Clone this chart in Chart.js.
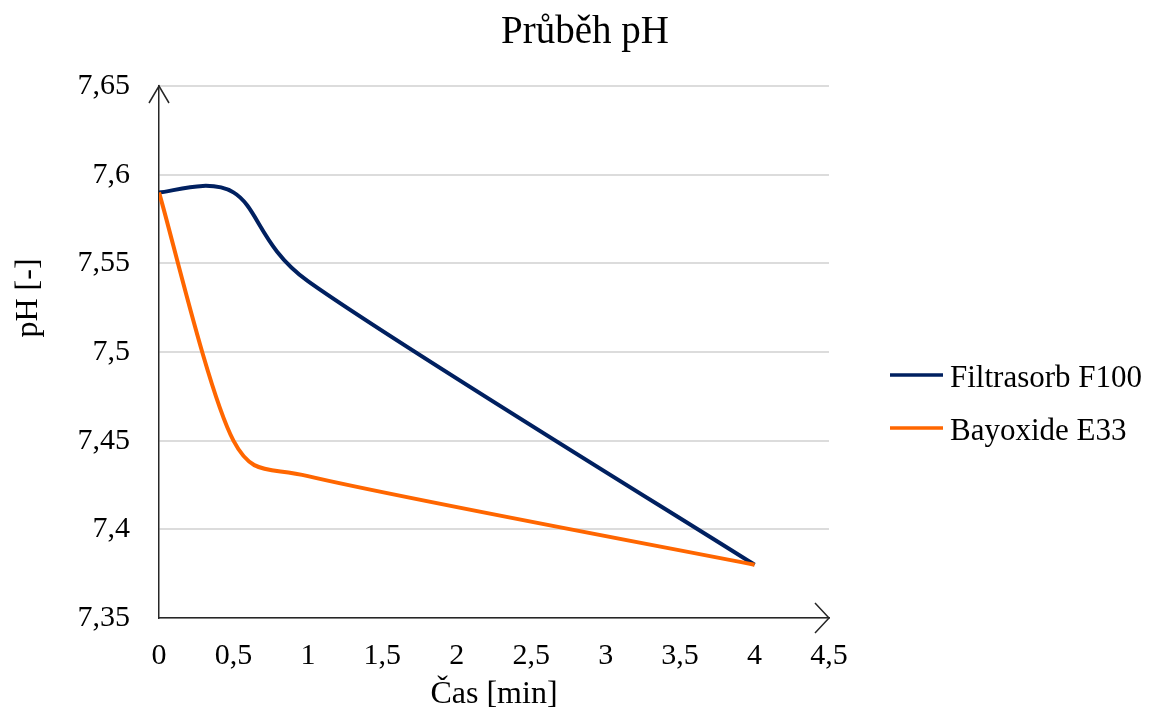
<!DOCTYPE html>
<html>
<head>
<meta charset="utf-8">
<title>Průběh pH</title>
<script src="https://cdn.jsdelivr.net/npm/chart.js@4.4.1/dist/chart.umd.min.js"></script>
<style>
  html, body { margin: 0; padding: 0; background: #fff; }
  #wrap { width: 1153px; height: 718px; }
</style>
</head>
<body>
<div id="wrap"><canvas id="phChart" width="1153" height="718"></canvas></div>
<script>
// ===== Data =====
const timeMin = [0, 0.5, 1, 4];
const filtrasorbPH = [7.59, 7.59, 7.54, 7.38];
const bayoxidePH = [7.59, 7.45, 7.43, 7.38];
const seriesNames = ["Filtrasorb F100", "Bayoxide E33"];
const chartTitle = "Průběh pH";
const xTitle = "Čas [min]";
const yTitle = "pH [-]";
const xMin = 0, xMax = 4.5, xStep = 0.5;
const yMin = 7.35, yMax = 7.65, yStep = 0.05;

const FONT = "'Liberation Serif', 'Times New Roman', serif";
const BLUE = "#002060";
const ORANGE = "#FF6600";
const AXIS = "#262626";

function toPoints(xs, ys) {
  return xs.map((x, i) => ({ x, y: ys[i] }));
}

function fmt(v) {
  return String(Math.round(v * 100) / 100).replace(".", ",");
}

// ===== Excel-like smoothing of the line =====
const excelSmooth = {
  id: "excelSmooth",
  beforeDatasetDraw(chart, args) {
    const meta = args.meta;
    const pts = meta.data;
    if (meta.dataset && typeof meta.dataset.updateControlPoints === "function") {
      meta.dataset.updateControlPoints(chart.chartArea, "x");
    }
    const n = pts.length;
    for (let i = 0; i < n; i++) {
      const p = pts[i];
      const prev = pts[Math.max(i - 1, 0)];
      const next = pts[Math.min(i + 1, n - 1)];
      const tx = next.x - prev.x;
      const ty = next.y - prev.y;
      const tl = Math.hypot(tx, ty) || 1;
      const dIn = i > 0 ? Math.hypot(p.x - prev.x, p.y - prev.y) : 0;
      const dOut = i < n - 1 ? Math.hypot(next.x - p.x, next.y - p.y) : 0;
      const kIn = Math.min(tl / 6, dIn / 2) / tl;
      const kOut = Math.min(tl / 6, dOut / 2) / tl;
      p.cp1x = p.x - tx * kIn;
      p.cp1y = p.y - ty * kIn;
      p.cp2x = p.x + tx * kOut;
      p.cp2y = p.y + ty * kOut;
    }
  }
};

// ===== Title, axis titles, arrows, legend =====
const decorations = {
  id: "decorations",
  afterDraw(chart) {
    const ctx = chart.ctx;
    const area = chart.chartArea;
    ctx.save();

    // arrowheads
    ctx.strokeStyle = AXIS;
    ctx.lineWidth = 1.5;
    ctx.beginPath();
    ctx.moveTo(area.left - 10, area.top + 17);
    ctx.lineTo(area.left, area.top);
    ctx.lineTo(area.left + 10, area.top + 17);
    ctx.moveTo(area.right - 14, area.bottom - 15);
    ctx.lineTo(area.right, area.bottom);
    ctx.lineTo(area.right - 14, area.bottom + 15);
    ctx.stroke();

    ctx.fillStyle = "#000";
    ctx.textBaseline = "alphabetic";

    // chart title
    ctx.font = "39px " + FONT;
    ctx.textAlign = "center";
    ctx.fillText(chartTitle, 585, 43);

    // x axis title
    ctx.font = "32px " + FONT;
    ctx.fillText(xTitle, (area.left + area.right) / 2, 703);

    // y axis title
    ctx.save();
    ctx.translate(37, 298);
    ctx.rotate(-Math.PI / 2);
    ctx.fillText(yTitle, 0, 0);
    ctx.restore();

    // legend
    const rows = [375, 428];
    chart.data.datasets.forEach((ds, i) => {
      ctx.strokeStyle = ds.borderColor;
      ctx.lineWidth = 3.5;
      ctx.beginPath();
      ctx.moveTo(890, rows[i]);
      ctx.lineTo(943, rows[i]);
      ctx.stroke();
      ctx.fillStyle = "#000";
      ctx.font = "31px " + FONT;
      ctx.textAlign = "left";
      ctx.fillText(ds.label, 950, rows[i] + 12);
    });

    ctx.restore();
  }
};

// ===== Chart =====
const ctx = document.getElementById("phChart").getContext("2d");
new Chart(ctx, {
  type: "line",
  data: {
    datasets: [
      {
        label: seriesNames[0],
        data: toPoints(timeMin, filtrasorbPH),
        borderColor: BLUE,
        backgroundColor: BLUE,
        borderWidth: 4,
        pointRadius: 0,
        tension: 0.4,
        fill: false,
        order: 1
      },
      {
        label: seriesNames[1],
        data: toPoints(timeMin, bayoxidePH),
        borderColor: ORANGE,
        backgroundColor: ORANGE,
        borderWidth: 4,
        pointRadius: 0,
        tension: 0.4,
        fill: false,
        order: 0
      }
    ]
  },
  options: {
    responsive: false,
    animation: false,
    devicePixelRatio: 1,
    layout: { padding: { top: 86, right: 324, bottom: 0, left: 0 } },
    plugins: {
      legend: { display: false },
      title: { display: false },
      tooltip: { enabled: false }
    },
    scales: {
      x: {
        type: "linear",
        min: xMin,
        max: xMax,
        grid: { display: false, drawTicks: false },
        border: { display: true, color: AXIS, width: 1.5 },
        ticks: {
          stepSize: xStep,
          padding: 20,
          color: "#000",
          font: { family: FONT, size: 30 },
          maxRotation: 0,
          autoSkip: false,
          callback: v => fmt(v)
        },
        afterFit(scale) { scale.height = 100; }
      },
      y: {
        min: yMin,
        max: yMax,
        grid: { color: "#dcdcdc", lineWidth: 2, drawTicks: false },
        border: { display: true, color: AXIS, width: 1.5 },
        ticks: {
          stepSize: yStep,
          padding: 29,
          color: "#000",
          font: { family: FONT, size: 30 },
          callback: v => fmt(v)
        },
        afterFit(scale) { scale.width = 159; }
      }
    }
  },
  plugins: [excelSmooth, decorations]
});
</script>
</body>
</html>
